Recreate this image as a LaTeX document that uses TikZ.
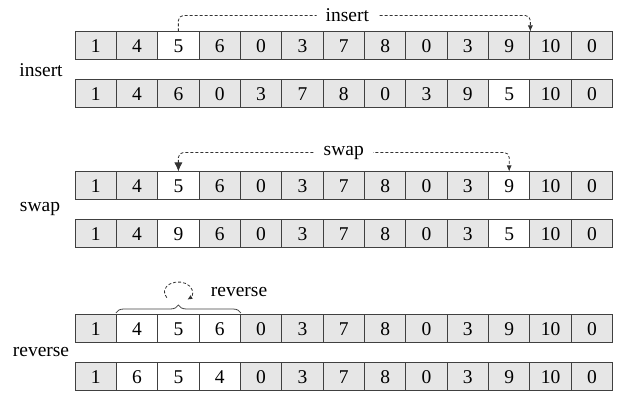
\documentclass[tikz,border=0pt]{standalone}
\usepackage{fontspec}
\setmainfont{LiberationSerif}[Extension=.ttf,UprightFont=*-Regular,BoldFont=*-Bold]
\usetikzlibrary{arrows.meta,decorations.pathreplacing,positioning}
\definecolor{cellgray}{HTML}{E6E6E6}
\definecolor{cellline}{HTML}{404040}
\definecolor{dashline}{HTML}{333333}

\begin{document}
\begin{tikzpicture}[x=1pt,y=1pt,font=\fontsize{19.5}{22}\selectfont,
        cell/.style={draw=cellline,line width=1pt,minimum width=41.35pt,minimum height=28pt,inner sep=0pt,anchor=west},
        flow/.style={draw=dashline,line width=0.8pt,dash pattern=on 3pt off 2pt},
        lbl/.style={fill=white,inner xsep=9pt,inner ysep=3pt}]
    \useasboundingbox (0,0) rectangle (622,394);
    % the six rows of cells
    \foreach \r/\yc/\vals/\cond in {
            1/348/{1,4,5,6,0,3,7,8,0,3,9,10,0}/{\i==3},
            2/300/{1,4,6,0,3,7,8,0,3,9,5,10,0}/{\i==11},
            3/208/{1,4,5,6,0,3,7,8,0,3,9,10,0}/{\i==3||\i==11},
            4/160/{1,4,9,6,0,3,7,8,0,3,5,10,0}/{\i==3||\i==11},
            5/65/{1,4,5,6,0,3,7,8,0,3,9,10,0}/{\i>1&&\i<5},
            6/17/{1,6,5,4,0,3,7,8,0,3,9,10,0}/{\i>1&&\i<5}}{
        \foreach \v [count=\i] in \vals {
            \pgfmathtruncatemacro\ishot{\cond}
            \ifnum\ishot=1 \def\cfill{white}\else\def\cfill{cellgray}\fi
            \node[cell,fill=\cfill] (r\r-\i) at ({74.5+41.35*(\i-1)},\yc) {\v};
        }
    }
    % row labels
    \node (insl) at (41,324) {insert};
    \node (swpl) at (40,185) {swap};
    \node (revl) at (41,41.5) {reverse};
    % operations
    \draw[flow,-{Latex[length=6pt,width=5pt]},rounded corners=5pt]
        (r1-3.north) -- ++(0,16) -| node[lbl,pos=0.24] {insert} (r1-11.north east);
    \draw[flow,{Latex[length=9pt,width=8pt]}-{Latex[length=6pt,width=5pt]},rounded corners=5pt]
        (r3-3.north) -- ++(0,19) -| node[lbl,pos=0.25] {swap} (r3-11.north);
    \draw[line width=0.8pt,draw=cellline,decorate,decoration={brace,amplitude=8pt,raise=1.5pt}]
        (r5-2.north west) -- node[coordinate,midway,yshift=9.5pt] (tip) {} (r5-4.north east);
    \draw[flow,-{Latex[length=5pt,width=4.5pt]}]
        ([shift={(-11.5,7.3)}]tip) arc[start angle=215,end angle=-50,x radius=14pt,y radius=10pt];
    \node[anchor=west] (revop) at ([shift={(29,13)}]tip) {reverse};
\end{tikzpicture}
\end{document}
